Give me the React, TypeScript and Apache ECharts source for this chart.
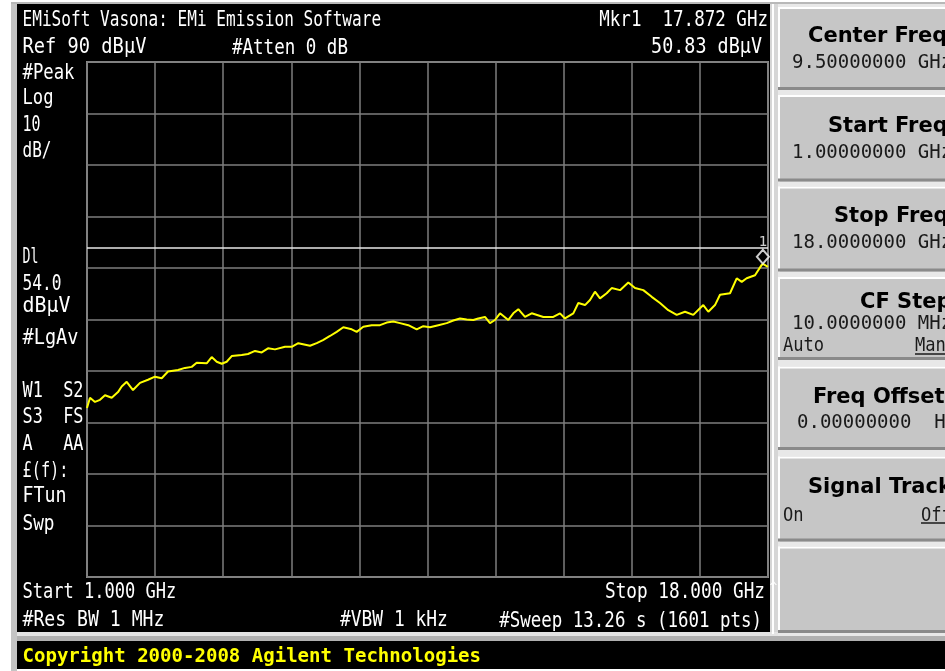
import React, { useEffect, useRef } from "react";
import * as echarts from "echarts";

// ---- trace data ----
const freqGHz = [
  1.0, 1.075, 1.2, 1.325, 1.449, 1.617, 1.774, 1.866, 1.991, 2.148,
  2.323, 2.523, 2.697, 2.865, 3.022, 3.272, 3.446, 3.614, 3.738, 3.988,
  4.113, 4.238, 4.363, 4.487, 4.612, 4.862, 5.019, 5.194, 5.361, 5.518,
  5.693, 5.943, 6.11, 6.275, 6.392, 6.567, 6.734, 6.891, 7.066, 7.233,
  7.398, 7.608, 7.732, 7.897, 8.107, 8.314, 8.481, 8.646, 8.813, 9.021,
  9.23, 9.395, 9.562, 9.77, 9.979, 10.144, 10.311, 10.479, 10.643, 10.768,
  10.935, 11.06, 11.185, 11.31, 11.517, 11.642, 11.767, 11.934, 12.101, 12.391,
  12.64, 12.808, 12.932, 13.14, 13.265, 13.432, 13.557, 13.681, 13.806, 13.973,
  14.098, 14.306, 14.513, 14.68, 14.887, 15.097, 15.304, 15.511, 15.721, 15.928,
  16.135, 16.302, 16.385, 16.51, 16.677, 16.802, 17.052, 17.219, 17.344, 17.468,
  17.676, 17.843, 17.872, 18.0,
];
const levelDbuV = [
  22.8, 24.8, 24.0, 24.4, 25.3, 24.8, 25.9, 27.0, 27.9, 26.3,
  27.7, 28.3, 28.9, 28.6, 29.9, 30.2, 30.6, 30.8, 31.6, 31.5,
  32.7, 31.8, 31.4, 31.8, 32.9, 33.1, 33.3, 33.9, 33.6, 34.4,
  34.2, 34.7, 34.7, 35.4, 35.2, 34.9, 35.4, 36.0, 36.8, 37.6,
  38.5, 38.1, 37.6, 38.6, 38.9, 38.9, 39.4, 39.6, 39.3, 38.9,
  38.1, 38.7, 38.5, 38.9, 39.3, 39.8, 40.2, 40.0, 39.9, 40.2,
  40.5, 39.3, 39.9, 41.2, 39.9, 41.2, 42.0, 40.5, 41.2, 40.5,
  40.5, 41.2, 40.2, 41.2, 43.2, 42.8, 43.8, 45.4, 44.1, 45.1,
  46.1, 45.7, 47.2, 46.1, 45.7, 44.4, 43.2, 41.8, 40.9, 41.5,
  40.9, 42.2, 42.8, 41.5, 42.8, 44.8, 45.1, 48.0, 47.3, 48.0,
  48.6, 50.6, 50.8, 50.2,
];
const startGHz = 1;
const stopGHz = 18;
const refLevel = 90;
const dbPerDiv = 10;
const divisions = 10;
const displayLine = 54.0;
const marker = { freq: 17.872, level: 50.83, label: "1" };

// ---- screen texts ----
const headerTexts = ["EMiSoft Vasona: EMi Emission Software", "Ref 90 dBµV", "#Atten 0 dB", "Mkr1  17.872 GHz", "50.83 dBµV"];
const sideTexts = ["#Peak", "Log", "10", "dB/", "Dl", "54.0", "dBµV", "#LgAv", "W1  S2", "S3  FS", "A   AA", "£(f):", "FTun", "Swp"];
const footerTexts = ["Start 1.000 GHz", "Stop 18.000 GHz", "#Res BW 1 MHz", "#VBW 1 kHz", "#Sweep 13.26 s (1601 pts)"];
const copyrightText = "Copyright 2000-2008 Agilent Technologies";
const softkeyTitles = ["Center Freq", "Start Freq", "Stop Freq", "CF Step", "Freq Offset", "Signal Track", ""];
const softkeyValues = ["9.50000000 GHz", "1.00000000 GHz", "18.0000000 GHz", "10.0000000 MHz", "0.00000000  Hz", "", ""];
const softkeyToggles = [null, null, null, ["Auto", "Man"], null, ["On", "Off"], null];

const MONO = '"DejaVu Sans Mono"';
const SANS = '"DejaVu Sans"';

let measureCtx: CanvasRenderingContext2D | null = null;
function measure(text: string, font: string) {
  if (!measureCtx) measureCtx = document.createElement("canvas").getContext("2d");
  if (!measureCtx) return 1;
  measureCtx.font = font;
  return measureCtx.measureText(text).width || 1;
}

function txt(text: string, x: number, y: number, o: any = {}) {
  const font = `${o.bold ? "bold" : "normal"} ${o.size || 21}px ${o.family || MONO}`;
  let scaleX = o.scaleX ?? 1;
  if (o.w) scaleX = o.w / measure(text, font);
  const align = o.align || "left";
  return {
    type: "text",
    x,
    y,
    scaleX,
    z: 20,
    silent: true,
    style: {
      text,
      font,
      fill: o.color || "#ffffff",
      align,
      textAlign: align,
      verticalAlign: "middle",
      textVerticalAlign: "middle",
    },
  };
}

function rect(x: number, y: number, w: number, h: number, fill: string, z = -10) {
  return { type: "rect", z, silent: true, shape: { x, y, width: w, height: h }, style: { fill } };
}

function line(x1: number, y1: number, x2: number, y2: number, stroke: string, lw: number, z = 5) {
  return { type: "line", z, silent: true, shape: { x1, y1, x2, y2 }, style: { stroke, lineWidth: lw } };
}

// softkey layout (positions only)
const keyLayout = [
  { top: 7, bottom: 90, tx: 808, ty: 35, sx: 792, sy: 61 },
  { top: 95, bottom: 181.5, tx: 828, ty: 125, sx: 792, sy: 151 },
  { top: 186.5, bottom: 271.5, tx: 834, ty: 215, sx: 792, sy: 241 },
  { top: 277, bottom: 360, tx: 860, ty: 301, sx: 792, sy: 322, gy: 344, gl: 783, gr: 915, ul: 354 },
  { top: 366.5, bottom: 450, tx: 813, ty: 396, sx: 797, sy: 421 },
  { top: 456.5, bottom: 541.5, tx: 808, ty: 486, sx: 792, sy: 514, gy: 514, gl: 783, gr: 921, ul: 523 },
  { top: 546.5, bottom: 633, tx: 808, ty: 575, sx: 792, sy: 600 },
];

function buildGraphic() {
  const g: any[] = [];
  // page frame
  g.push(rect(0, 0, 945, 671, "#ffffff", -30));
  g.push(rect(11, 3, 6, 668, "#c4c4c4", -25));
  g.push(rect(11, 2, 934, 2, "#b8b8b8", -25));
  g.push(rect(17, 4, 753, 628, "#000000", -20));
  g.push(rect(770, 4, 8, 637, "#d6d6d6", -20));
  g.push(rect(772, 4, 2, 630, "#ffffff", -19));
  g.push(rect(17, 632, 761, 9, "#e4e4e4", -20));
  g.push(rect(17, 636, 928, 5, "#b0b0b0", -19));
  g.push(rect(17, 641, 928, 28, "#000000", -20));
  g.push(rect(778, 4, 167, 637, "#e8e8e8", -20));

  // softkeys
  keyLayout.forEach((k, i) => {
    const h = k.bottom - k.top;
    g.push(rect(778, k.top, 167, h, "#c6c6c6", -15));
    g.push(rect(778, k.top, 167, 2, "#ffffff", -14));
    g.push(rect(778, k.top, 2, h, "#ffffff", -14));
    g.push(rect(778, k.bottom - 3, 167, 3, "#8a8a8a", -14));
    if (softkeyTitles[i]) g.push(txt(softkeyTitles[i], k.tx, k.ty, { size: 21, bold: true, family: SANS, color: "#000000" }));
    if (softkeyValues[i]) g.push(txt(softkeyValues[i], k.sx, k.sy, { size: 19, color: "#1a1a1a" }));
    const tg = softkeyToggles[i];
    if (tg && k.gy) {
      g.push(txt(tg[0], k.gl!, k.gy, { size: 19, color: "#1a1a1a", scaleX: 0.9 }));
      g.push(txt(tg[1], k.gr!, k.gy, { size: 19, color: "#1a1a1a", scaleX: 0.9 }));
      g.push(line(k.gr!, k.ul!, 945, k.ul!, "#1a1a1a", 1.5, 20));
    }
  });

  // header
  g.push(txt(headerTexts[0], 22.5, 18.5, { w: 359 }));
  g.push(txt(headerTexts[1], 22.5, 46.5, { w: 124 }));
  g.push(txt(headerTexts[2], 232, 46.5, { w: 116 }));
  g.push(txt(headerTexts[3], 768, 18.5, { w: 169, align: "right" }));
  g.push(txt(headerTexts[4], 762, 46.5, { w: 111, align: "right" }));

  // left annotation column
  const sideY = [71.5, 97, 123.5, 150, 256, 282.5, 305, 337.5, 389.5, 415, 442.5, 469.5, 495.5, 522.5];
  const sideW = [52, 31, 18, 29, 16, 39, 48, 56, 61, 61, 61, 46, 44, 32];
  sideTexts.forEach((t, i) => g.push(txt(t, 22.5, sideY[i], { w: sideW[i] })));

  // footer
  g.push(txt(footerTexts[0], 22.5, 590.5, { w: 154 }));
  g.push(txt(footerTexts[1], 765, 590.5, { w: 160, align: "right" }));
  g.push(txt("^", 769.5, 586, { size: 13 }));
  g.push(txt(footerTexts[2], 22.5, 619.5, { w: 142 }));
  g.push(txt(footerTexts[3], 340, 619.5, { w: 108 }));
  g.push(txt(footerTexts[4], 762, 619.5, { w: 263, align: "right" }));

  // copyright bar
  g.push(txt(copyrightText, 22.5, 655, { size: 20, bold: true, color: "#ffff00", w: 459 }));
  return g;
}

export default function App() {
  const ref = useRef<HTMLDivElement>(null);
  useEffect(() => {
    if (!ref.current) return;
    const chart = echarts.init(ref.current, undefined, { renderer: "svg" });
    const gridLine = { show: true, lineStyle: { color: "#7e7e7e", width: 1.5 } };
    chart.setOption({
      animation: false,
      backgroundColor: "transparent",
      grid: {
        left: 87,
        top: 62,
        width: 681,
        height: 515,
        show: true,
        borderColor: "#8c8c8c",
        borderWidth: 2,
        backgroundColor: "transparent",
      },
      xAxis: [
        { type: "value", min: startGHz, max: stopGHz, show: false },
        {
          type: "value",
          min: 0,
          max: divisions,
          interval: 1,
          axisLine: { show: false },
          axisTick: { show: false },
          axisLabel: { show: false },
          splitLine: gridLine,
        },
      ],
      yAxis: {
        type: "value",
        min: refLevel - dbPerDiv * divisions,
        max: refLevel,
        interval: dbPerDiv,
        axisLine: { show: false },
        axisTick: { show: false },
        axisLabel: { show: false },
        splitLine: gridLine,
      },
      series: [
        {
          type: "line",
          xAxisIndex: 0,
          data: freqGHz.map((f, i) => [f, levelDbuV[i]]),
          symbol: "none",
          showSymbol: false,
          lineStyle: { color: "#ffff00", width: 2 },
          z: 3,
          markLine: {
            silent: true,
            symbol: "none",
            label: { show: false },
            lineStyle: { color: "#e8e8e8", width: 1.5, type: "solid" },
            data: [{ yAxis: displayLine }],
          },
        },
        {
          type: "scatter",
          xAxisIndex: 0,
          data: [[marker.freq, marker.level]],
          symbol: "diamond",
          symbolSize: [12, 14],
          symbolOffset: [0, -7],
          z: 6,
          itemStyle: { color: "#000000", borderColor: "#ffffff", borderWidth: 2 },
          label: {
            show: true,
            formatter: marker.label,
            position: "top",
            distance: 1,
            color: "#ffffff",
            fontSize: 14,
            fontFamily: "DejaVu Sans Mono",
          },
        },
      ],
      graphic: buildGraphic(),
    });
    return () => chart.dispose();
  }, []);
  return <div ref={ref} style={{ position: "fixed", left: 0, top: 0, width: 945, height: 671 }} />;
}
